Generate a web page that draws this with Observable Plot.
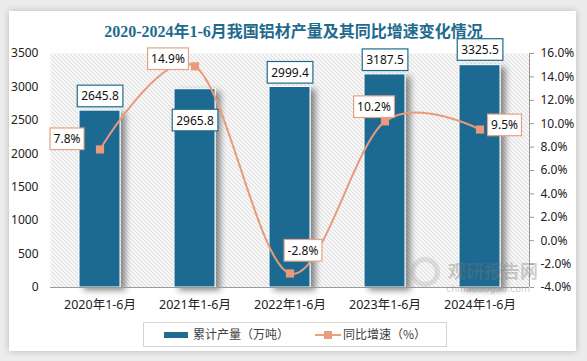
<!DOCTYPE html>
<html><head><meta charset="utf-8">
<script src="https://cdn.jsdelivr.net/npm/d3@7"></script>
<script src="https://cdn.jsdelivr.net/npm/@observablehq/plot@0.6"></script>
<style>
body{margin:0;background:#ececec;width:587px;height:361px;overflow:hidden;position:relative;font-family:"Noto Sans CJK SC","Noto Sans",sans-serif;}
#card{position:absolute;left:9px;top:11px;width:567px;height:340px;background:#fff;box-shadow:0 0 7px rgba(0,0,0,0.22);}
#title{position:absolute;left:0;width:587px;top:21px;text-align:center;font-weight:bold;font-size:16px;font-family:"Liberation Serif","Noto Sans CJK SC",serif;color:#1f6b8e;line-height:22px;white-space:nowrap;}
#chart{position:absolute;left:0;top:0;}
#legend{position:absolute;left:143px;top:322px;width:302px;height:23px;border:1px solid #d4d4d4;background:#fff;}
.lg{position:absolute;top:2px;font-size:12px;line-height:18px;color:#404040;white-space:nowrap;}
#wm1{position:absolute;left:448px;top:260px;font-size:18px;line-height:20px;height:20px;font-weight:bold;color:rgba(120,120,120,0.35);}
#wm2{position:absolute;left:446px;top:284px;font-size:9.5px;line-height:10px;height:10px;color:rgba(120,120,120,0.4);font-family:"DejaVu Sans";}
#wmlogo{position:absolute;left:410px;top:257px;width:30px;height:30px;border-radius:50%;border:5px solid rgba(150,150,150,0.25);box-sizing:border-box;}
</style></head>
<body>
<div id="card"></div>
<div id="title">2020-2024年1-6月我国铝材产量及其同比增速变化情况</div>
<div id="chart"></div>
<div id="wmlogo"></div>
<div id="wm1">观研报告网</div>
<div id="wm2">chinabaogao.com</div>
<div id="legend">
  <div style="position:absolute;left:20px;top:9px;width:24px;height:6px;background:#1f6b91"></div>
  <div class="lg" style="left:49px">累计产量（万吨）</div>
  <div style="position:absolute;left:171px;top:11px;width:26px;height:2px;background:#e8a080"></div>
  <div style="position:absolute;left:180px;top:8px;width:8px;height:8px;background:#e8a080"></div>
  <div class="lg" style="left:199px">同比增速（%）</div>
</div>
<script>
const categories = ["2020年1-6月", "2021年1-6月", "2022年1-6月", "2023年1-6月", "2024年1-6月"];
const output = [2645.8, 2965.8, 2999.4, 3187.5, 3325.5];
const growth = [7.8, 14.9, -2.8, 10.2, 9.5];
const leftTicks = [0, 500, 1000, 1500, 2000, 2500, 3000, 3500];
const rightTicks = [-4, -2, 0, 2, 4, 6, 8, 10, 12, 14, 16];

const yMax = 3500, pMin = -4, pMax = 16;
const toY = p => (p - pMin) / (pMax - pMin) * yMax;
const fromY = v => Math.round(((v / yMax) * (pMax - pMin) + pMin) * 10) / 10;

const data = categories.map((c, i) => ({cat: c, v: output[i], p: growth[i], py: toY(growth[i])}));

const barColor = "#1f6b91";
const lineColor = "#e89a7a";

// label offsets (px) relative to anchor
const barOff = [-14, 31.5, -14, -14, -15];
const pctOff = [[-33, -10], [-27, -7], [13, -22.5], [-11, -14], [24.5, -4]];

const barLabels = data.map((d, i) => Plot.text([d], {x: "cat", y: "v", text: d => d.v.toFixed(1), dy: barOff[i], fill: "#111", fontSize: 12}));
const pctLabels = data.map((d, i) => Plot.text([d], {x: "cat", y: "py", text: d => d.p.toFixed(1) + "%", dx: pctOff[i][0], dy: pctOff[i][1], fill: "#111", fontSize: 12}));

const chart = Plot.plot({
  width: 587, height: 361,
  marginLeft: 50, marginRight: 58, marginTop: 53, marginBottom: 74,
  style: {background: "transparent", fontFamily: "'Noto Sans','Noto Sans CJK SC',sans-serif", fontSize: "12px", color: "#333"},
  x: {domain: categories, paddingInner: 0.57, paddingOuter: 0.285, axis: null},
  y: {domain: [0, yMax], axis: null},
  marks: [
    Plot.frame({fill: "url(#hatch)", stroke: "none"}),
    Plot.barY(data, {x: "cat", y: "v", fill: barColor, stroke: "#fff", strokeWidth: 1}),
    Plot.line(data, {x: "cat", y: "py", stroke: lineColor, strokeWidth: 2, curve: "cardinal"}),
    Plot.dot(data, {x: "cat", y: "py", symbol: "square", r: 4.6, fill: lineColor, stroke: "none"}),
    ...barLabels,
    ...pctLabels,
    Plot.axisX({tickSize: 0, tickPadding: 13, fontSize: 12.5, fill: "#222", label: null}),
    Plot.axisY(leftTicks, {anchor: "left", tickSize: 0, tickPadding: 12, fontSize: 12, fill: "#222", label: null, tickFormat: d => String(d)}),
    Plot.axisY(rightTicks.map(toY), {anchor: "right", tickSize: 4, tickPadding: 7, stroke: "#999", fontSize: 12, fill: "#222", label: null, tickFormat: v => fromY(v).toFixed(1) + "%"}),
  ]
});
document.getElementById("chart").appendChild(chart);

const ns = "http://www.w3.org/2000/svg";
const defs = document.createElementNS(ns, "defs");
defs.innerHTML = '<pattern id="hatch" patternUnits="userSpaceOnUse" width="4" height="4"><rect width="4" height="4" fill="#fff"/><path d="M-1,-1 L5,5 M-1,3 L1,5 M3,-1 L5,1" stroke="#c2c2c2" stroke-width="1"/></pattern>' +
  '<filter id="shadow" x="-30%" y="-10%" width="160%" height="130%"><feGaussianBlur in="SourceAlpha" stdDeviation="3"/><feOffset dx="5" dy="3" result="b"/><feComponentTransfer><feFuncA type="linear" slope="0.45"/></feComponentTransfer><feMerge><feMergeNode/><feMergeNode in="SourceGraphic"/></feMerge></filter>';
chart.insertBefore(defs, chart.firstChild);

const barG = chart.querySelector('g[aria-label="bar"]');
if (barG) barG.setAttribute("filter", "url(#shadow)");

const xs = chart.scale("x"), ys = chart.scale("y");
const [x0, x1] = xs.range, [yb, yt] = ys.range;
function addLine(a, b, c, d) {
  const l = document.createElementNS(ns, "line");
  l.setAttribute("x1", a); l.setAttribute("y1", b); l.setAttribute("x2", c); l.setAttribute("y2", d);
  l.setAttribute("stroke", "#9a9a9a"); l.setAttribute("stroke-width", 1);
  chart.appendChild(l);
}
addLine(x0, yb + 0.5, x1, yb + 0.5);
addLine(x1 + 0.5, yt, x1 + 0.5, yb);

const textGroups = chart.querySelectorAll('g[aria-label="text"]');
textGroups.forEach((g, gi) => {
  const isBar = gi < barLabels.length;
  g.querySelectorAll("text").forEach(t => {
    const bb = t.getBBox();
    const r = document.createElementNS(ns, "rect");
    const px = isBar ? 4 : 3.5, py = 2.3;
    r.setAttribute("x", bb.x - px); r.setAttribute("y", bb.y - py);
    r.setAttribute("width", bb.width + 2 * px); r.setAttribute("height", bb.height + 2 * py);
    r.setAttribute("fill", "#fff");
    r.setAttribute("stroke", isBar ? "#1f6b8e" : "#e3a486");
    r.setAttribute("stroke-width", 1.2);
    if (t.getAttribute("transform")) r.setAttribute("transform", t.getAttribute("transform"));
    g.insertBefore(r, t);
  });
});
</script>
</body></html>
